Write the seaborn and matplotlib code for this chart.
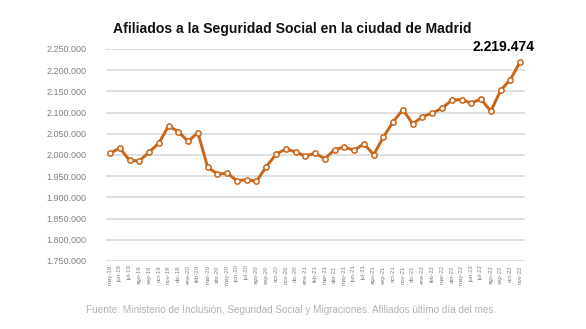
import matplotlib
matplotlib.use("Agg")
import matplotlib.pyplot as plt
import matplotlib.ticker as mticker
import seaborn as sns
import pandas as pd

months = ["may-19", "jun-19", "jul-19", "ago-19", "sep-19", "oct-19", "nov-19", "dic-19",
          "ene-20", "feb-20", "mar-20", "abr-20", "may-20", "jun-20", "jul-20", "ago-20",
          "sep-20", "oct-20", "nov-20", "dic-20", "ene-21", "feb-21", "mar-21", "abr-21",
          "may-21", "jun-21", "jul-21", "ago-21", "sep-21", "oct-21", "nov-21", "dic-21",
          "ene-22", "feb-22", "mar-22", "abr-22", "may-22", "jun-22", "jul-22", "ago-22",
          "sep-22", "oct-22", "nov-22"]
afiliados = [2004000, 2016500, 1987400, 1986000, 2006300, 2028300, 2068400, 2055000,
             2032200, 2052700, 1971000, 1955200, 1956800, 1939500, 1941800, 1937900,
             1972500, 2001600, 2014200, 2007100, 1997600, 2004000, 1991400, 2012600,
             2018900, 2011000, 2026700, 2000800, 2042500, 2078600, 2106900, 2073100,
             2090400, 2099000, 2110000, 2129700, 2130500, 2122600, 2132000, 2103000,
             2152500, 2177700, 2219474]
yticks = [1750000, 1800000, 1850000, 1900000, 1950000, 2000000, 2050000, 2100000,
          2150000, 2200000, 2250000]
title = "Afiliados a la Seguridad Social en la ciudad de Madrid"
source = "Fuente: Ministerio de Inclusión, Seguridad Social y Migraciones. Afiliados último día del mes."
last_label = "2.219.474"

sns.set_theme(style="white")
plt.rcParams["font.family"] = ["Liberation Sans", "DejaVu Sans"]

df = pd.DataFrame({"idx": range(len(months)), "val": afiliados})

fig = plt.figure(figsize=(5.86, 3.29), dpi=100)
ax = fig.add_axes([106 / 586, 1 - 261 / 329, (525 - 106) / 586, (261 - 49) / 329])

orange = "#CA6418"
sns.lineplot(data=df, x="idx", y="val", ax=ax, color=orange, linewidth=2.1,
             marker="o", markersize=3.8, markerfacecolor="white",
             markeredgecolor=orange, markeredgewidth=1.1, zorder=3)

ax.set_ylim(yticks[0], yticks[-1])
ax.set_xlim(-0.41, 42.5)
ax.set_yticks(yticks)
ax.yaxis.set_major_formatter(mticker.FuncFormatter(lambda v, p: f"{int(v):,}".replace(",", ".")))
ax.set_xticks(range(len(months)))
ax.set_xticklabels(months, rotation=90, fontsize=4.3, color="#808080")
ax.tick_params(axis="y", labelsize=6.5, labelcolor="#808080", length=0, pad=14)
ax.tick_params(axis="x", length=0, pad=3)
ax.grid(axis="y", color="#d9d9d9", linewidth=1.2)
ax.grid(axis="x", visible=False)
for s in ax.spines.values():
    s.set_visible(False)
ax.set_xlabel("")
ax.set_ylabel("")

fig.text(292 / 586, 1 - 28.5 / 329, title, ha="center", va="center",
         fontsize=10.1, fontweight="bold", color="#111111")
ax.annotate(last_label, xy=(len(months) - 1, afiliados[-1]), xytext=(10, 11),
            textcoords="offset points", ha="right", va="center",
            fontsize=10, fontweight="bold", color="black")
fig.text(291 / 586, 1 - 310 / 329, source, ha="center", va="center",
         fontsize=7.2, color="#b3b3b3")

fig.savefig("out.png", dpi=100)
